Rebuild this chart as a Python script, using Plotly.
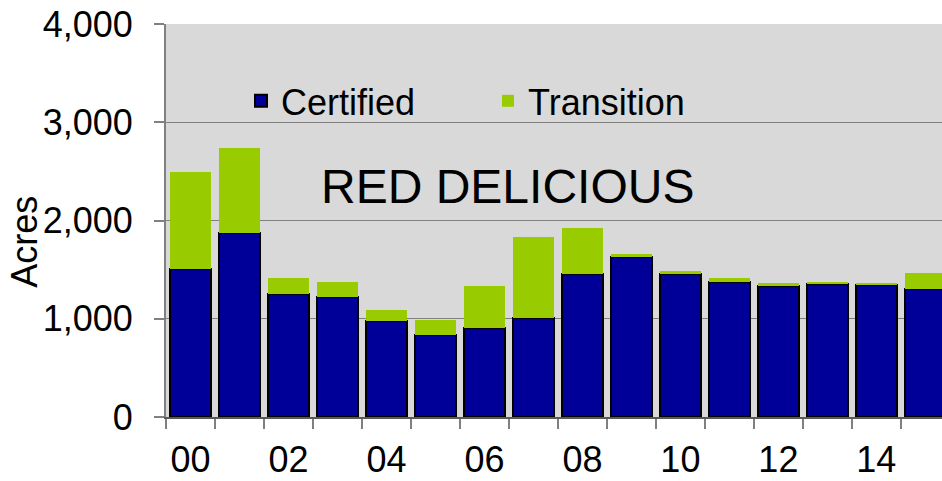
import plotly.graph_objects as go

years = list(range(2000, 2016))
year_labels = ["00", "01", "02", "03", "04", "05", "06", "07",
               "08", "09", "10", "11", "12", "13", "14", "15"]
certified = [1510, 1869, 1252, 1218, 981, 832, 910, 1012,
             1456, 1628, 1459, 1377, 1337, 1357, 1344, 1303]
transition = [980, 864, 159, 156, 108, 152, 424, 816,
              467, 34, 27, 34, 27, 12, 10, 163]

FONT = "Liberation Sans, Arial, sans-serif"

fig = go.Figure()
fig.add_trace(go.Bar(
    x=years, y=certified, name="Certified",
    marker=dict(color="#000099", line=dict(color="black", width=2)),
    width=0.84,
))
fig.add_trace(go.Bar(
    x=years, y=transition, name="Transition",
    marker=dict(color="#99CC00", line=dict(width=0)),
    width=0.84,
))

boundaries = [y - 0.5 for y in years] + [years[-1] + 0.5]

# plot area: screen x 166..942 (chart is cut at the right), y 24..417.5
PW, PH = 776.0, 393.5
def px(sx):
    return (sx - 166) / PW
def py(sy):
    return (417.5 - sy) / PH

fig.update_layout(
    barmode="stack",
    width=942, height=481,
    margin=dict(l=166, r=0, t=24, b=63.5),
    paper_bgcolor="white",
    plot_bgcolor="#D9D9D9",
    font=dict(family=FONT, size=36, color="black"),
    showlegend=True,
    legend=dict(
        orientation="h", x=px(241), xanchor="left",
        y=py(101), yanchor="middle",
        bgcolor="rgba(0,0,0,0)", borderwidth=0,
        entrywidth=202, entrywidthmode="pixels",
        font=dict(size=36, family=FONT, color="black"),
        traceorder="normal",
    ),
    xaxis=dict(
        range=[years[0] - 0.5, years[-1] + 0.34],
        tickmode="array",
        tickvals=years[::2], ticktext=year_labels[::2],
        ticks="", showgrid=False, zeroline=False,
        showline=True, linecolor="#595959", linewidth=2,
        ticklabelstandoff=10,
        tickfont=dict(size=36, family=FONT, color="black"),
        minor=dict(tickmode="array", tickvals=boundaries, ticks="outside",
                   ticklen=10, tickcolor="#808080", tickwidth=1.5, showgrid=False),
    ),
    yaxis=dict(
        range=[0, 4000], dtick=1000, tickformat=",",
        ticks="outside", ticklen=10, tickcolor="#808080", tickwidth=1.5,
        showgrid=True, gridcolor="#808080", gridwidth=1,
        zeroline=False,
        showline=True, linecolor="#808080", linewidth=2,
        ticklabelstandoff=14,
        tickfont=dict(size=36, family=FONT, color="black"),
    ),
    annotations=[
        dict(text="Acres", xref="paper", yref="paper",
             x=px(25), y=py(242), xanchor="center", yanchor="middle",
             showarrow=False, textangle=-90,
             font=dict(size=36, family=FONT, color="black")),
        dict(text="RED DELICIOUS", xref="paper", yref="paper",
             x=px(507), y=py(187), xanchor="center", yanchor="middle",
             showarrow=False,
             font=dict(size=48, family=FONT, color="black")),
    ],
)

fig.write_html(
    "out.html",
    config={"displayModeBar": False},
    post_script="document.body.style.margin='0px';document.body.style.overflow='hidden';",
)
